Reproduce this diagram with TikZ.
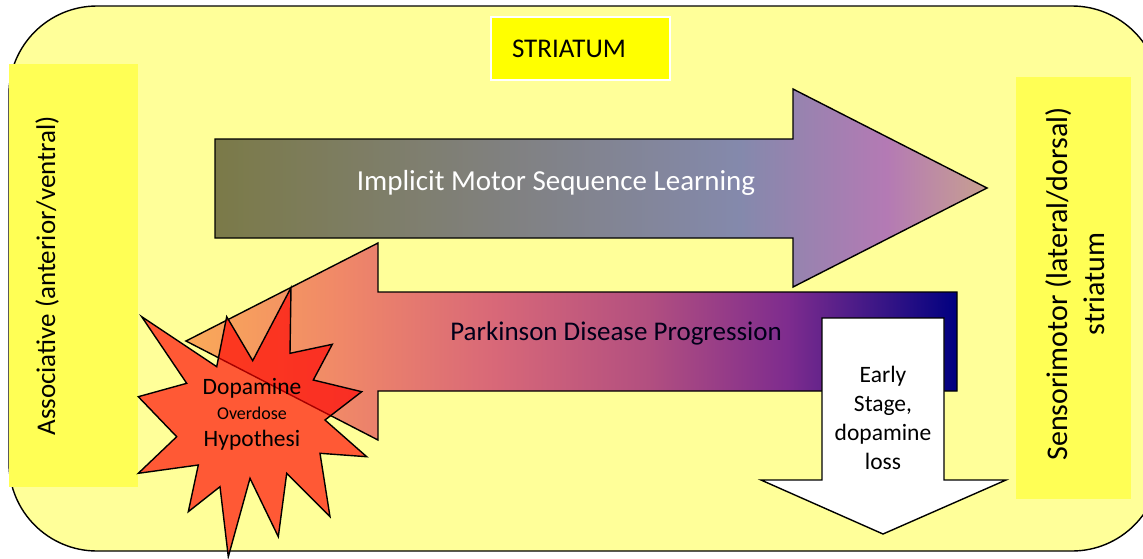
\documentclass[tikz,border=0pt]{standalone}
\usepackage{fontspec}
\setmainfont{Carlito}

\definecolor{bgyellow}{HTML}{FFFF99}
\definecolor{sideyellow}{HTML}{FFFF55}
\definecolor{titleyellow}{HTML}{FFFF00}
\definecolor{lrnA}{HTML}{7B7A48}
\definecolor{lrnB}{HTML}{80807C}
\definecolor{lrnC}{HTML}{8489AC}
\definecolor{lrnD}{HTML}{B47AB4}
\definecolor{lrnE}{HTML}{C8A090}
\definecolor{pdA}{HTML}{FAAA58}
\definecolor{pdB}{HTML}{F08868}
\definecolor{pdC}{HTML}{D86878}
\definecolor{pdD}{HTML}{B24F80}
\definecolor{pdE}{HTML}{7E2C8E}
\definecolor{pdF}{HTML}{3A1686}
\definecolor{pdG}{HTML}{000080}

% Verlaeufe: Pfad-Box liegt zwischen 25bp und 75bp
\pgfdeclarehorizontalshading{learnshade}{100bp}{%
  color(0bp)=(lrnA); color(25bp)=(lrnA); color(42.5bp)=(lrnB);
  color(59bp)=(lrnC); color(68.5bp)=(lrnD); color(75bp)=(lrnE);
  color(100bp)=(lrnE)}
\pgfdeclarehorizontalshading{pdshade}{100bp}{%
  color(0bp)=(pdA); color(25bp)=(pdA); color(35bp)=(pdB);
  color(45bp)=(pdC); color(55bp)=(pdD); color(64bp)=(pdE);
  color(70bp)=(pdF); color(75bp)=(pdG); color(100bp)=(pdG)}

\begin{document}
\begin{tikzpicture}[x=1pt, y=-1pt, line width=1.4pt,
  every node/.style={align=center},
  sidetext/.style={rotate=90},
  arrowtext/.style={font=\fontsize{27}{32}\selectfont},
  smalltext/.style={font=\fontsize{23.5}{29}\selectfont},
  tinytext/.style={font=\fontsize{18}{21}\selectfont},
  bigarrow/.style={draw=black, line join=miter}]

  % --- Parameter ---
  \def\cornerrad{88}   % Radius der Ecken aussen

  \useasboundingbox (0,0) rectangle (1143,558);
  \clip (0,0) rectangle (1143,558);

  % --- Rahmen: Striatum ---
  \draw[fill=bgyellow, rounded corners=\cornerrad] (9,6) rectangle (1160,551);

  % --- Seitenfelder ---
  \fill[sideyellow] (9,64) rectangle (138,487);
  \fill[sideyellow] (1016,77) rectangle (1131,499);
  \node[sidetext, font=\fontsize{27}{33}\selectfont] (assoc) at (47,276) {Associative (anterior/ventral)};
  \node[sidetext, font=\fontsize{30}{37}\selectfont] (senso) at (1075,284)
    {Sensorimotor (lateral/dorsal)\\striatum};

  % --- Titel ---
  \node[fill=titleyellow, draw=white, line width=2pt, minimum width=179, minimum height=63,
        text width=137, align=left, inner xsep=0, font=\fontsize{27}{31}\selectfont]
        (title) at (580.5,48.5) {STRIATUM};

  % --- Pfeil nach rechts: Lernen ---
  \coordinate (L_tail_top) at (215,139);
  \coordinate (L_neck_top) at (793,139);
  \coordinate (L_head_top) at (793,89);
  \coordinate (L_tip)      at (987,188);
  \coordinate (L_head_bot) at (793,287);
  \coordinate (L_neck_bot) at (793,238);
  \coordinate (L_tail_bot) at (215,238);
  \shade[bigarrow, shading=learnshade] (L_tail_top) -- (L_neck_top) -- (L_head_top) -- (L_tip)
    -- (L_head_bot) -- (L_neck_bot) -- (L_tail_bot) -- cycle;
  \node[arrowtext, text=white, font=\fontsize{29}{34}\selectfont] (learn) at (556,183)
    {Implicit Motor Sequence Learning};

  % --- Pfeil nach links: Parkinson ---
  \coordinate (P_tail_top) at (957,292);
  \coordinate (P_neck_top) at (378,292);
  \coordinate (P_head_top) at (378,243);
  \coordinate (P_tip)      at (186,341);
  \coordinate (P_head_bot) at (378,440);
  \coordinate (P_neck_bot) at (378,391);
  \coordinate (P_tail_bot) at (957,391);
  \shade[bigarrow, shading=pdshade] (P_tail_top) -- (P_neck_top) -- (P_head_top) -- (P_tip)
    -- (P_head_bot) -- (P_neck_bot) -- (P_tail_bot) -- cycle;
  \node[arrowtext, text=black!90!blue] (pd) at (616,333) {Parkinson Disease Progression};

  % --- Pfeil nach unten: fruehe Phase ---
  \coordinate (E_top_l)  at (822,318);
  \coordinate (E_top_r)  at (944,318);
  \coordinate (E_neck_r) at (944,480);
  \coordinate (E_head_r) at (1006,480);
  \coordinate (E_tip)    at (883,534);
  \coordinate (E_head_l) at (761,480);
  \coordinate (E_neck_l) at (822,480);
  \draw[bigarrow, fill=white] (E_top_l) -- (E_top_r) -- (E_neck_r) -- (E_head_r) -- (E_tip)
    -- (E_head_l) -- (E_neck_l) -- cycle;
  \node[smalltext] (early) at (883,418) {Early\\Stage,\\dopamine\\loss};

  % --- Explosion: Dopamin-Ueberdosis ---
  \draw[fill=red, fill opacity=0.65, line join=miter]
    (141.7,316.7) -- (216.7,366.7) -- (226.7,316.7) -- (252.7,360.7)
    -- (291,287.7) -- (290,353.3) -- (332.3,344.3) -- (313.3,380)
    -- (361.7,391.7) -- (325,420) -- (366.7,456.7) -- (320,453.3)
    -- (330,516.7) -- (286.7,473.3) -- (278.3,536.7) -- (250,478.3)
    -- (228.3,556.7) -- (220,486.7) -- (188.3,511.7) -- (198.3,465)
    -- (138.3,473.3) -- (176.7,436.7) -- (138.3,396.7) -- (186.7,383.3) -- cycle;
  \node[smalltext] (dop)  at (252,388) {Dopamine};
  \node[tinytext]  (over) at (252,413) {Overdose};
  \node[smalltext] (hyp)  at (252,440) {Hypothesi};

\end{tikzpicture}
\end{document}
